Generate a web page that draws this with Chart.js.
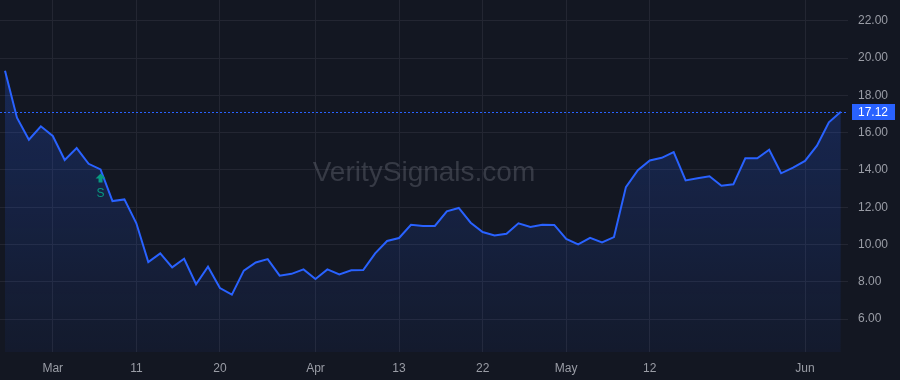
<!DOCTYPE html>
<html>
<head>
<meta charset="utf-8">
<script src="https://cdn.jsdelivr.net/npm/chart.js@4.4.1/dist/chart.umd.min.js"></script>
<style>
  body { margin: 0; background: #131722; }
  #wrap { width: 900px; height: 380px; position: relative; }
</style>
</head>
<body>
<div id="wrap"><canvas id="priceChart"></canvas></div>
<script>
const prices = [19.32, 16.8, 15.62, 16.34, 15.82, 14.53, 15.17, 14.33, 14.03, 12.33,
    12.42, 11.14, 9.06, 9.53, 8.78, 9.24, 7.87, 8.81, 7.67, 7.31,
    8.6, 9.04, 9.22, 8.33, 8.43, 8.67, 8.15, 8.67, 8.4, 8.62,
    8.63, 9.53, 10.19, 10.35, 11.06, 11.0, 11.0, 11.78, 11.96, 11.17,
    10.67, 10.49, 10.58, 11.14, 10.94, 11.06, 11.05, 10.3, 10.01, 10.36,
    10.12, 10.4, 13.08, 13.99, 14.51, 14.65, 14.96, 13.44, 13.55, 13.66,
    13.15, 13.23, 14.62, 14.62, 15.08, 13.82, 14.12, 14.48, 15.3, 16.55,
    17.12];
const xTickIdx = [4, 11, 18, 26, 33, 40, 47, 54, 67];
const xTickLabels = ['Mar', '11', '20', 'Apr', '13', '22', 'May', '12', 'Jun'];
const yTicks = [6, 8, 10, 12, 14, 16, 18, 20, 22];
const signalIdx = 8;
const signalText = 'S';
const watermark = 'VeritySignals.com';

const FONT = "'Liberation Sans', Arial, sans-serif";
const BLUE = '#2962FF';
const TEXT = '#9a9da6';
const GRID = '#232632';

// watermark, last price line + label, signal marker
const overlay = {
    id: 'overlay',
    beforeDatasetsDraw(chart) {
        const { ctx, chartArea } = chart;
        ctx.save();
        ctx.font = '28px ' + FONT;
        ctx.fillStyle = 'rgba(120,123,134,0.35)';
        ctx.textAlign = 'center';
        ctx.textBaseline = 'middle';
        ctx.fillText(watermark, (chartArea.left + chartArea.right) / 2, (chartArea.top + chartArea.bottom) / 2 - 3);
        ctx.restore();
    },
    afterDatasetsDraw(chart) {
        const { ctx, chartArea, scales } = chart;
        const last = prices[prices.length - 1];
        const y = Math.round(scales.y.getPixelForValue(last)) + 0.5;
        ctx.save();
        ctx.strokeStyle = BLUE;
        ctx.lineWidth = 1;
        ctx.setLineDash([2, 2]);
        ctx.beginPath();
        ctx.moveTo(chartArea.left, y);
        ctx.lineTo(chartArea.right, y);
        ctx.stroke();
        ctx.setLineDash([]);
        ctx.fillStyle = BLUE;
        ctx.fillRect(chartArea.right + 4, y - 8.5, 43, 16);
        ctx.fillStyle = '#ffffff';
        ctx.font = '12px ' + FONT;
        ctx.textAlign = 'left';
        ctx.textBaseline = 'middle';
        ctx.fillText(last.toFixed(2), chartArea.right + 10, y);

        // signal marker under the point
        const px = scales.x.getPixelForValue(signalIdx);
        const py = scales.y.getPixelForValue(prices[signalIdx]);
        const top = py + 4;
        ctx.fillStyle = '#089981';
        ctx.beginPath();
        ctx.moveTo(px, top);
        ctx.lineTo(px + 5, top + 5);
        ctx.lineTo(px + 2, top + 5);
        ctx.lineTo(px + 2, top + 9);
        ctx.lineTo(px - 2, top + 9);
        ctx.lineTo(px - 2, top + 5);
        ctx.lineTo(px - 5, top + 5);
        ctx.closePath();
        ctx.fill();
        ctx.font = '12px ' + FONT;
        ctx.textAlign = 'center';
        ctx.fillText(signalText, px, top + 20);
        ctx.restore();
    }
};

const ctx = document.getElementById('priceChart').getContext('2d');
new Chart(ctx, {
    type: 'line',
    data: {
        datasets: [{
            data: prices.map((v, i) => ({ x: i, y: v })),
            borderColor: BLUE,
            borderWidth: 2,
            pointRadius: 0,
            tension: 0,
            fill: 'start',
            backgroundColor: (c) => {
                const area = c.chart.chartArea;
                if (!area) return 'rgba(41,98,255,0.15)';
                const g = c.chart.ctx.createLinearGradient(0, area.top, 0, area.bottom);
                g.addColorStop(0, 'rgba(41,98,255,0.28)');
                g.addColorStop(1, 'rgba(41,98,255,0.05)');
                return g;
            }
        }]
    },
    options: {
        responsive: true,
        maintainAspectRatio: false,
        animation: false,
        layout: { padding: 0 },
        plugins: { legend: { display: false }, tooltip: { enabled: false } },
        scales: {
            x: {
                type: 'linear',
                min: -0.42,
                max: 70.6,
                afterBuildTicks: (s) => { s.ticks = xTickIdx.map(v => ({ value: v })); },
                afterFit: (s) => { s.height = 28; s.paddingLeft = 0; s.paddingRight = 0; },
                grid: { color: GRID, drawTicks: false },
                border: { display: false },
                ticks: {
                    autoSkip: false,
                    maxRotation: 0,
                    padding: 9,
                    color: TEXT,
                    font: { family: FONT, size: 12 },
                    callback: (v) => xTickLabels[xTickIdx.indexOf(v)]
                }
            },
            y: {
                position: 'right',
                min: 4.24,
                max: 23.11,
                afterBuildTicks: (s) => { s.ticks = yTicks.map(v => ({ value: v })); },
                afterFit: (s) => { s.width = 52; s.paddingTop = 0; s.paddingBottom = 0; },
                grid: { color: GRID, drawTicks: false },
                border: { display: false },
                ticks: {
                    padding: 10,
                    color: TEXT,
                    font: { family: FONT, size: 12 },
                    callback: (v) => v.toFixed(2)
                }
            }
        }
    },
    plugins: [overlay]
});
</script>
</body>
</html>
